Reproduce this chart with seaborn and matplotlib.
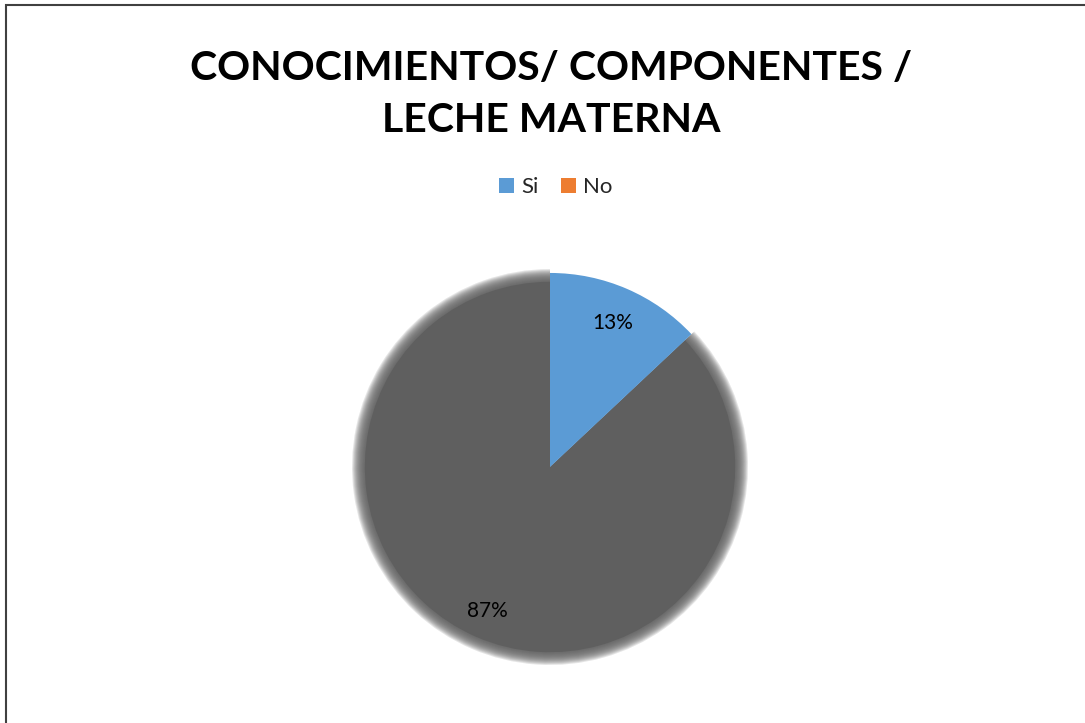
import matplotlib.pyplot as plt
import numpy as np
import seaborn as sns
from matplotlib.patches import Patch, Rectangle

labels = ["Si", "No"]
values = [13, 87]
slice_colors = ["#5b9bd5", "#5f5f5f"]
legend_colors = ["#5b9bd5", "#ed7d31"]
title = "CONOCIMIENTOS/ COMPONENTES /\nLECHE MATERNA"

sns.set_theme(style="white")
plt.rcParams["font.family"] = ["Lato", "DejaVu Sans"]

fig = plt.figure(figsize=(10.85, 7.23), dpi=100)
fig.patch.set_facecolor("white")

# outer chart border (only left and top visible, image is cropped)
fig.add_artist(Rectangle((6 / 1085, -0.05), 1.2, (723 - 5) / 723 + 0.05,
                         transform=fig.transFigure, fill=False,
                         edgecolor="#404040", linewidth=1.5))

fig.text(0.508, 0.869, title, ha="center", va="center", fontsize=29.5,
         fontweight="bold", linespacing=1.5, color="black")

R = 197
size = 2.5 * R
ax = fig.add_axes([(550 - size / 2) / 1085, (256 - size / 2) / 723,
                   size / 1085, size / 723])

# soft blurred edge for the grey slice
for r in np.linspace(1.005, 0.94, 14):
    ax.pie(values, colors=["none", slice_colors[1]], startangle=90,
           counterclock=False, radius=r,
           wedgeprops=dict(alpha=0.16, linewidth=0))
ax.pie(values, colors=["none", slice_colors[1]], startangle=90,
       counterclock=False, radius=0.94, wedgeprops=dict(linewidth=0))

wedges, texts, autotexts = ax.pie(
    values, colors=slice_colors, startangle=90, counterclock=False,
    radius=0.985, autopct="%d%%", pctdistance=0.81,
    wedgeprops=dict(linewidth=0),
    textprops=dict(fontsize=15, color="black"),
)
wedges[1].set_alpha(0.0)
ax.set_xlim(-1.25, 1.25)
ax.set_ylim(-1.25, 1.25)
ax.set_aspect("equal")
ax.axis("off")

handles = [Patch(facecolor=c, edgecolor="none") for c in legend_colors]
fig.legend(handles, labels, loc="center", bbox_to_anchor=(0.512, 0.741),
           ncol=2, frameon=False, fontsize=16, handlelength=0.7,
           handleheight=0.7, handletextpad=0.3, columnspacing=1.0)

fig.savefig("out.png", dpi=100)
